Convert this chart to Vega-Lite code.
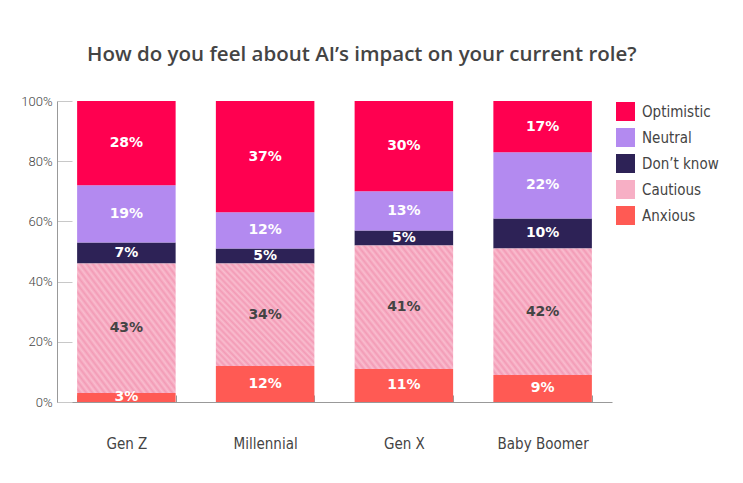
{
  "$schema": "https://vega.github.io/schema/vega-lite/v6.json",
  "description": "How do you feel about AI's impact on your current role, by generation",
  "autosize": {"type": "none"},
  "padding": {"left": 57, "top": 101, "right": 131, "bottom": 81},
  "width": 555,
  "height": 301,
  "background": "white",
  "title": {
    "text": "How do you feel about AI’s impact on your current role?",
    "font": "Open Sans",
    "fontSize": 20.5,
    "fontWeight": 600,
    "color": "#444444",
    "anchor": "middle",
    "frame": "bounds",
    "dx": -8,
    "offset": 30
  },
  "config": {"view": {"stroke": null}},
  "data": {
    "values": [
      {"gen": "Gen Z", "answer": "Anxious", "order": 1, "value": 3},
      {"gen": "Gen Z", "answer": "Cautious", "order": 2, "value": 43},
      {"gen": "Gen Z", "answer": "Don’t know", "order": 3, "value": 7},
      {"gen": "Gen Z", "answer": "Neutral", "order": 4, "value": 19},
      {"gen": "Gen Z", "answer": "Optimistic", "order": 5, "value": 28},
      {"gen": "Millennial", "answer": "Anxious", "order": 1, "value": 12},
      {"gen": "Millennial", "answer": "Cautious", "order": 2, "value": 34},
      {"gen": "Millennial", "answer": "Don’t know", "order": 3, "value": 5},
      {"gen": "Millennial", "answer": "Neutral", "order": 4, "value": 12},
      {"gen": "Millennial", "answer": "Optimistic", "order": 5, "value": 37},
      {"gen": "Gen X", "answer": "Anxious", "order": 1, "value": 11},
      {"gen": "Gen X", "answer": "Cautious", "order": 2, "value": 41},
      {"gen": "Gen X", "answer": "Don’t know", "order": 3, "value": 5},
      {"gen": "Gen X", "answer": "Neutral", "order": 4, "value": 13},
      {"gen": "Gen X", "answer": "Optimistic", "order": 5, "value": 30},
      {"gen": "Baby Boomer", "answer": "Anxious", "order": 1, "value": 9},
      {"gen": "Baby Boomer", "answer": "Cautious", "order": 2, "value": 42},
      {"gen": "Baby Boomer", "answer": "Don’t know", "order": 3, "value": 10},
      {"gen": "Baby Boomer", "answer": "Neutral", "order": 4, "value": 22},
      {"gen": "Baby Boomer", "answer": "Optimistic", "order": 5, "value": 17}
    ]
  },
  "transform": [
    {"stack": "value", "groupby": ["gen"], "sort": [{"field": "order"}], "as": ["y0", "y1"]}
  ],
  "encoding": {
    "x": {
      "field": "gen",
      "type": "nominal",
      "sort": ["Gen Z", "Millennial", "Gen X", "Baby Boomer"],
      "scale": {"paddingInner": 0.29, "paddingOuter": 0.145},
      "axis": {
        "title": null,
        "labelAngle": 0,
        "tickBand": "extent",
        "tickSize": -7,
        "tickColor": "#999999",
        "domainColor": "#999999",
        "labelPadding": 41,
        "labelFont": "Liberation Sans Narrow, DejaVu Sans Condensed, sans-serif",
        "labelFontSize": 15,
        "labelColor": "#444444",
        "grid": false
      }
    }
  },
  "layer": [
    {
      "transform": [{"filter": "datum.answer !== 'Cautious'"}],
      "mark": {"type": "bar"},
      "encoding": {
        "y": {
          "field": "y0",
          "type": "quantitative",
          "scale": {"domain": [0, 100]},
          "axis": {
            "title": null,
            "values": [0, 20, 40, 60, 80, 100],
            "labelExpr": "datum.value + '%'",
            "grid": false,
            "tickSize": -15,
            "tickColor": "#c8c8c8",
            "domainColor": "#999999",
            "labelPadding": 20,
            "labelFont": "Roboto",
            "labelFontWeight": 300,
            "labelFontSize": 13,
            "labelColor": "#444444"
          }
        },
        "y2": {"field": "y1"},
        "color": {
          "field": "answer",
          "type": "nominal",
          "scale": {
            "domain": ["Optimistic", "Neutral", "Don’t know", "Cautious", "Anxious"],
            "range": ["#FF0050", "#B38AF0", "#2D2256", "#F7AFC5", "#FF5A54"]
          },
          "legend": {
            "title": null,
            "orient": "none",
            "legendX": 559,
            "legendY": 1,
            "padding": 0,
            "symbolType": "square",
            "symbolSize": 361,
            "symbolStrokeWidth": 0,
            "symbolOpacity": 1,
            "rowPadding": 7,
            "labelOffset": 7,
            "labelFont": "Liberation Sans Narrow, DejaVu Sans Condensed, sans-serif",
            "labelFontSize": 15,
            "labelColor": "#444444"
          }
        }
      }
    },
    {
      "transform": [{"filter": "datum.answer === 'Cautious'"}],
      "mark": {
        "type": "bar",
        "fill": {
          "gradient": "linear",
          "x1": 0, "y1": 1, "x2": 1, "y2": 0,
          "stops": [
            {"offset": 0, "color": "#F9BDCF"},
            {"offset": 0.0156, "color": "#F39BB6"},
            {"offset": 0.0313, "color": "#F9BDCF"},
            {"offset": 0.0469, "color": "#F39BB6"},
            {"offset": 0.0625, "color": "#F9BDCF"},
            {"offset": 0.0781, "color": "#F39BB6"},
            {"offset": 0.0938, "color": "#F9BDCF"},
            {"offset": 0.1094, "color": "#F39BB6"},
            {"offset": 0.125, "color": "#F9BDCF"},
            {"offset": 0.1406, "color": "#F39BB6"},
            {"offset": 0.1563, "color": "#F9BDCF"},
            {"offset": 0.1719, "color": "#F39BB6"},
            {"offset": 0.1875, "color": "#F9BDCF"},
            {"offset": 0.2031, "color": "#F39BB6"},
            {"offset": 0.2188, "color": "#F9BDCF"},
            {"offset": 0.2344, "color": "#F39BB6"},
            {"offset": 0.25, "color": "#F9BDCF"},
            {"offset": 0.2656, "color": "#F39BB6"},
            {"offset": 0.2813, "color": "#F9BDCF"},
            {"offset": 0.2969, "color": "#F39BB6"},
            {"offset": 0.3125, "color": "#F9BDCF"},
            {"offset": 0.3281, "color": "#F39BB6"},
            {"offset": 0.3438, "color": "#F9BDCF"},
            {"offset": 0.3594, "color": "#F39BB6"},
            {"offset": 0.375, "color": "#F9BDCF"},
            {"offset": 0.3906, "color": "#F39BB6"},
            {"offset": 0.4063, "color": "#F9BDCF"},
            {"offset": 0.4219, "color": "#F39BB6"},
            {"offset": 0.4375, "color": "#F9BDCF"},
            {"offset": 0.4531, "color": "#F39BB6"},
            {"offset": 0.4688, "color": "#F9BDCF"},
            {"offset": 0.4844, "color": "#F39BB6"},
            {"offset": 0.5, "color": "#F9BDCF"},
            {"offset": 0.5156, "color": "#F39BB6"},
            {"offset": 0.5313, "color": "#F9BDCF"},
            {"offset": 0.5469, "color": "#F39BB6"},
            {"offset": 0.5625, "color": "#F9BDCF"},
            {"offset": 0.5781, "color": "#F39BB6"},
            {"offset": 0.5938, "color": "#F9BDCF"},
            {"offset": 0.6094, "color": "#F39BB6"},
            {"offset": 0.625, "color": "#F9BDCF"},
            {"offset": 0.6406, "color": "#F39BB6"},
            {"offset": 0.6563, "color": "#F9BDCF"},
            {"offset": 0.6719, "color": "#F39BB6"},
            {"offset": 0.6875, "color": "#F9BDCF"},
            {"offset": 0.7031, "color": "#F39BB6"},
            {"offset": 0.7188, "color": "#F9BDCF"},
            {"offset": 0.7344, "color": "#F39BB6"},
            {"offset": 0.75, "color": "#F9BDCF"},
            {"offset": 0.7656, "color": "#F39BB6"},
            {"offset": 0.7813, "color": "#F9BDCF"},
            {"offset": 0.7969, "color": "#F39BB6"},
            {"offset": 0.8125, "color": "#F9BDCF"},
            {"offset": 0.8281, "color": "#F39BB6"},
            {"offset": 0.8438, "color": "#F9BDCF"},
            {"offset": 0.8594, "color": "#F39BB6"},
            {"offset": 0.875, "color": "#F9BDCF"},
            {"offset": 0.8906, "color": "#F39BB6"},
            {"offset": 0.9063, "color": "#F9BDCF"},
            {"offset": 0.9219, "color": "#F39BB6"},
            {"offset": 0.9375, "color": "#F9BDCF"},
            {"offset": 0.9531, "color": "#F39BB6"},
            {"offset": 0.9688, "color": "#F9BDCF"},
            {"offset": 0.9844, "color": "#F39BB6"},
            {"offset": 1, "color": "#F9BDCF"}
          ]
        }
      },
      "encoding": {
        "y": {"field": "y0", "type": "quantitative"},
        "y2": {"field": "y1"}
      }
    },
    {
      "mark": {
        "type": "text",
        "font": "DejaVu Sans",
        "fontWeight": "bold",
        "fontSize": 14,
        "baseline": "middle",
        "align": "center",
        "text": {"expr": "datum.value + '%'"}
      },
      "encoding": {
        "y": {"field": "value", "type": "quantitative", "stack": "zero", "bandPosition": 0.5},
        "detail": {"field": "answer"},
        "order": {"field": "order", "type": "quantitative"},
        "color": {
          "condition": {"test": "datum.answer === 'Cautious'", "value": "#444444"},
          "value": "#ffffff"
        }
      }
    }
  ]
}
